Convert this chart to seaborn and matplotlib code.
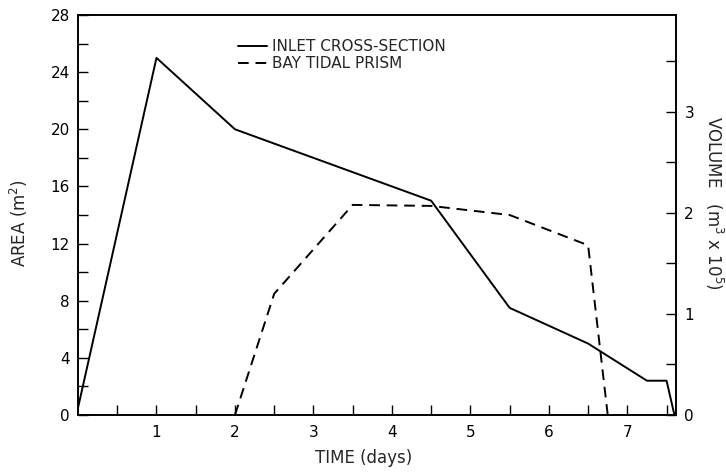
import matplotlib
matplotlib.use("Agg")
import matplotlib.pyplot as plt
import seaborn as sns
import pandas as pd
from matplotlib.ticker import MultipleLocator, FixedLocator

# Data
inlet_days = [0.0, 1.0, 2.0, 4.5, 5.5, 6.5, 7.25, 7.5, 7.6]
inlet_area = [0.5, 25.0, 20.0, 15.0, 7.5, 5.0, 2.4, 2.4, 0.0]

prism_days = [2.0, 2.5, 3.5, 4.5, 5.5, 6.5, 6.75]
prism_volume = [0.0, 1.2, 2.08, 2.07, 1.98, 1.68, 0.0]

x_tick_labels = ["1", "2", "3", "4", "5", "6", "7"]

sns.set_style("ticks")
plt.rcParams['font.family'] = ['DejaVu Sans']

fig = plt.figure(figsize=(7.26, 4.73), dpi=100)
ax = fig.add_axes([78/726, 1-415/473, 598/726, 400/473])
ax2 = ax.twinx()

df_inlet = pd.DataFrame({"day": inlet_days, "area": inlet_area})
df_prism = pd.DataFrame({"day": prism_days, "vol": prism_volume})

sns.lineplot(data=df_inlet, x="day", y="area", ax=ax, color="black",
             linewidth=1.4, sort=False, estimator=None, label="INLET CROSS-SECTION",
             legend=False)
sns.lineplot(data=df_prism, x="day", y="vol", ax=ax2, color="black",
             linewidth=1.4, sort=False, estimator=None, label="BAY TIDAL PRISM",
             legend=False, dashes=False)
ax2.lines[0].set_linestyle((0, (5.5, 3.5)))

ax.set_xlim(0, 7.62)
ax.set_ylim(0, 28)
ax2.set_ylim(0, 3.96)

fs = 11
ax.xaxis.set_major_locator(FixedLocator([1, 2, 3, 4, 5, 6, 7]))
ax.set_xticklabels(x_tick_labels)
ax.xaxis.set_minor_locator(FixedLocator([0.5, 1.5, 2.5, 3.5, 4.5, 5.5, 6.5, 7.5]))
ax.yaxis.set_major_locator(MultipleLocator(4))
ax.yaxis.set_minor_locator(MultipleLocator(2))
ax2.yaxis.set_major_locator(FixedLocator([0, 1, 2, 3]))
ax2.yaxis.set_minor_locator(FixedLocator([0.5, 1.5, 2.5, 3.5]))

for a in (ax, ax2):
    a.tick_params(which="both", direction="in", length=7, width=1.0,
                  labelsize=fs, color="black", labelcolor="black")
ax.tick_params(axis="x", which="both", top=False, pad=7)
ax.tick_params(axis="y", which="both", right=False, pad=6)
ax2.tick_params(axis="y", which="both", left=False, pad=6)

for a in (ax, ax2):
    for s in a.spines.values():
        s.set_visible(True)
        s.set_linewidth(1.2)
        s.set_color("black")

ax.set_xlabel("TIME (days)", fontsize=fs + 1)
ax.xaxis.set_label_coords((364 - 78) / 598, -0.085)
ax.set_ylabel("AREA (m$^2$)", fontsize=fs + 1)
ax.yaxis.set_label_coords((30 - 78) / 598, 0.48)
ax2.set_ylabel("VOLUME   (m$^3$ x 10$^5$)", fontsize=fs + 1, rotation=-90,
               va="center")
ax2.yaxis.set_label_coords((714 - 78) / 598, 0.53)

handles = ax.get_lines()[:1] + ax2.get_lines()[:1]
labels = ["INLET CROSS-SECTION", "BAY TIDAL PRISM"]
leg = ax.legend(handles, labels, loc="upper left",
                bbox_to_anchor=((232 - 78) / 598, 0.955), frameon=False,
                fontsize=fs, handlelength=1.9, handletextpad=0.3,
                labelspacing=0.15, borderaxespad=0)

fig.savefig("out.png", dpi=100, facecolor="white")
